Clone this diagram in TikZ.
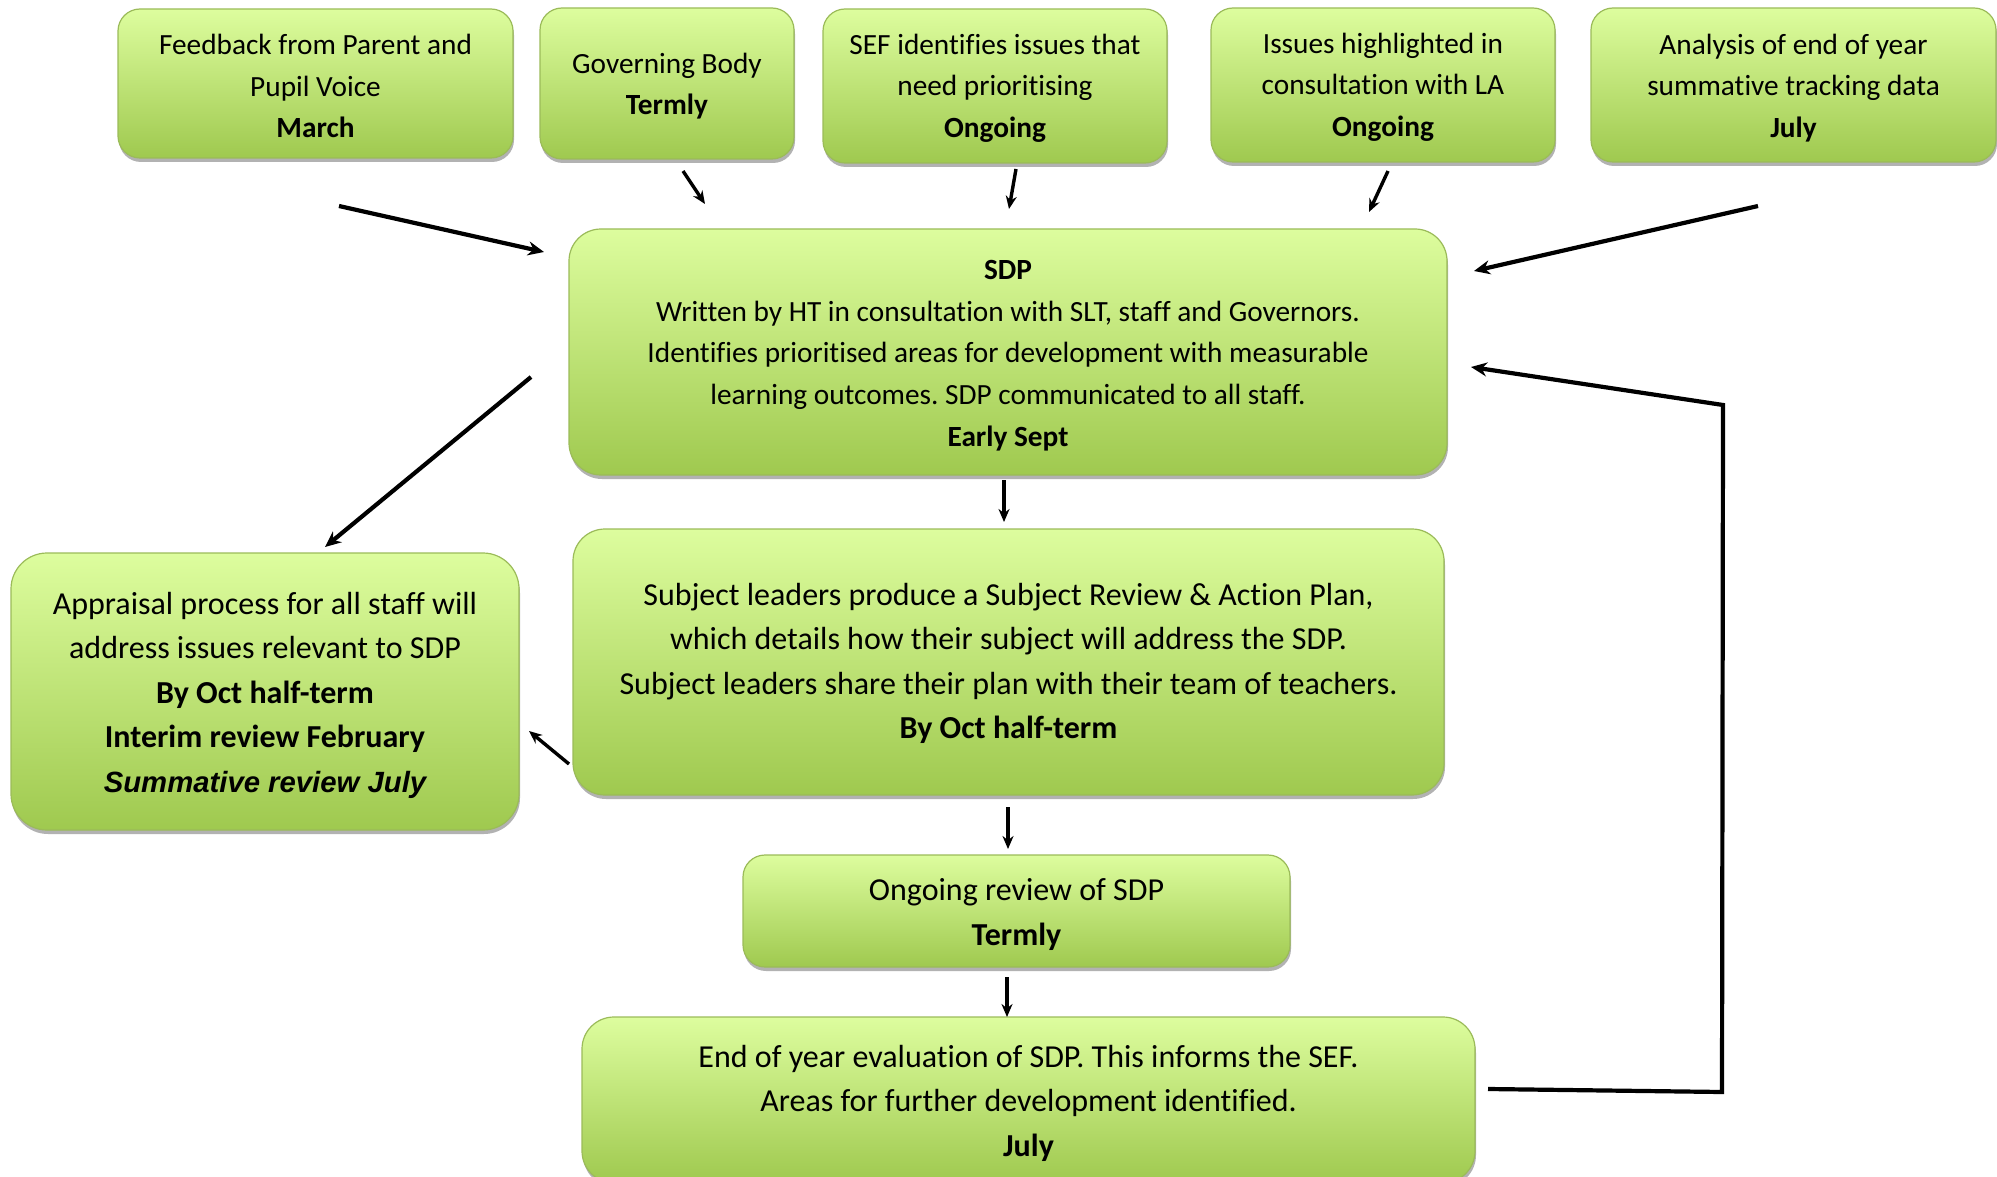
\documentclass[tikz,border=0pt]{standalone}
\usepackage{fontspec}
\setmainfont{Carlito}[Ligatures=NoCommon]
\newfontfamily\arialfont{Liberation Sans}
\frenchspacing
\usetikzlibrary{shadows,arrows.meta}
\definecolor{gtop}{HTML}{DDFD9E}
\definecolor{gbot}{HTML}{9FC94F}
\definecolor{gborder}{HTML}{9BBB59}
\begin{document}
\begin{tikzpicture}[x=1pt,y=-1pt,
  box/.style={draw=gborder, line width=1.2pt, top color=gtop, bottom color=gbot,
    inner sep=0pt,
    drop shadow={shadow xshift=1pt, shadow yshift=-4pt, opacity=0.3, fill=black}},
  smallbox/.style={box, rounded corners=22pt},
  bigbox/.style={box, rounded corners=32pt},
  smalltxt/.style={align=center, inner sep=0pt, text=black, font=\fontsize{29.3}{41.5}\selectfont},
  bigtxt/.style={align=center, inner sep=0pt, text=black, font=\fontsize{32}{44.5}\selectfont},
  arr/.style={-{Stealth[length=16pt,width=14pt]}, line width=4.2pt, black},
  sarr/.style={-{Stealth[length=13pt,width=11pt]}, line width=3.4pt, black}]
\useasboundingbox (0,0) rectangle (1997,1177);
\clip (0,0) rectangle (1997,1177);

% top row
\node[smallbox, minimum width=395pt, minimum height=149pt] (fb) at (315.5,83.5) {};
\node[smalltxt] (fbt) at ([yshift=-2.5pt]fb.center)
  {Feedback from Parent and\\ Pupil Voice\\ \textbf{March}};
\node[smallbox, minimum width=254pt, minimum height=151pt] (gb) at (667,83.5) {};
\node[smalltxt] (gbt) at ([yshift=-2.5pt]gb.center)
  {Governing Body\\ \textbf{Termly}};
\node[smallbox, minimum width=344pt, minimum height=154pt] (sef) at (995,86) {};
\node[smalltxt] (seft) at ([yshift=-2pt]sef.center)
  {SEF identifies issues that\\ need prioritising\\ \textbf{Ongoing}};
\node[smallbox, minimum width=344pt, minimum height=154pt] (la) at (1383,85) {};
\node[smalltxt] (lat) at ([yshift=-2pt]la.center)
  {Issues highlighted in\\ consultation with LA\\ \textbf{Ongoing}};
\node[smallbox, minimum width=405pt, minimum height=154pt] (an) at (1793.5,85) {};
\node[smalltxt] (ant) at ([yshift=-3pt]an.center)
  {Analysis of end of year\\ summative tracking data\\ \textbf{July}};

% SDP
\node[bigbox, minimum width=878pt, minimum height=246pt] (sdp) at (1008,352) {};
\node[smalltxt, font=\fontsize{29.3}{41.7}\selectfont] (sdpt) at ([yshift=-3.5pt]sdp.center)
  {\textbf{SDP}\\ Written by HT in consultation with SLT, staff and Governors.\\
   Identifies prioritised areas for development with measurable\\
   learning outcomes. SDP communicated to all staff.\\ \textbf{Early Sept}};

% subject leaders
\node[bigbox, minimum width=871pt, minimum height=266pt] (sub) at (1008.5,662) {};
\node[bigtxt] (subt) at ([yshift=-1.5pt]sub.center)
  {Subject leaders produce a Subject Review \& Action Plan,\\
   which details how their subject will address the SDP.\\
   Subject leaders share their plan with their team of teachers.\\
   \textbf{By Oct half-term}};

% appraisal
\node[bigbox, rounded corners=36pt, minimum width=508pt, minimum height=277pt] (app) at (265,691.5) {};
\node[bigtxt] (appt) at ([yshift=-3.5pt]app.center)
  {Appraisal process for all staff will\\ address issues relevant to SDP\\
   \textbf{By Oct half-term}\\ \textbf{Interim review February}\\
   {\arialfont\fontsize{29.3}{41}\selectfont\bfseries\itshape Summative review July}};

% ongoing review
\node[bigbox, rounded corners=22pt, minimum width=547pt, minimum height=112pt] (ong) at (1016.5,911) {};
\node[bigtxt] (ongt) at ([yshift=-3.5pt]ong.center)
  {Ongoing review of SDP\\ \textbf{Termly}};

% end of year
\node[bigbox, minimum width=893pt, minimum height=166pt] (eoy) at (1028.5,1100) {};
\node[bigtxt] (eoyt) at ([yshift=-3pt]eoy.center)
  {End of year evaluation of SDP. This informs the SEF.\\
   Areas for further development identified.\\ \textbf{July}};

% arrow end points
\coordinate (a1s) at (339,206);   \coordinate (a1e) at (544,252);
\coordinate (a2s) at (683,171);   \coordinate (a2e) at (705,204);
\coordinate (a3s) at (1016,169);  \coordinate (a3e) at (1009,209);
\coordinate (a4s) at (1388,171);  \coordinate (a4e) at (1369,212);
\coordinate (a5s) at (1758,206);  \coordinate (a5e) at (1474,271);
\coordinate (a6s) at (531,377);   \coordinate (a6e) at (325,547);
\coordinate (a7s) at (1004,480);  \coordinate (a7e) at (1004,522);
\coordinate (a8s) at (569,764);   \coordinate (a8e) at (529,731);
\coordinate (a9s) at (1008,807);  \coordinate (a9e) at (1008,849);
\coordinate (a10s) at (1007,977); \coordinate (a10e) at (1007,1017);
\coordinate (l0) at (1488,1089);  \coordinate (l1) at (1722,1092);
\coordinate (l2) at (1723,405);   \coordinate (l3) at (1471,367);

\draw[arr] (a1s) -- (a1e);
\draw[sarr] (a2s) -- (a2e);
\draw[sarr] (a3s) -- (a3e);
\draw[sarr] (a4s) -- (a4e);
\draw[arr] (a5s) -- (a5e);
\draw[arr] (a6s) -- (a6e);
\draw[sarr] (a7s) -- (a7e);
\draw[sarr] (a8s) -- (a8e);
\draw[sarr] (a9s) -- (a9e);
\draw[sarr] (a10s) -- (a10e);
\draw[arr, line join=miter] (l0) -- (l1) -- (l2) -- (l3);
\end{tikzpicture}
\end{document}
